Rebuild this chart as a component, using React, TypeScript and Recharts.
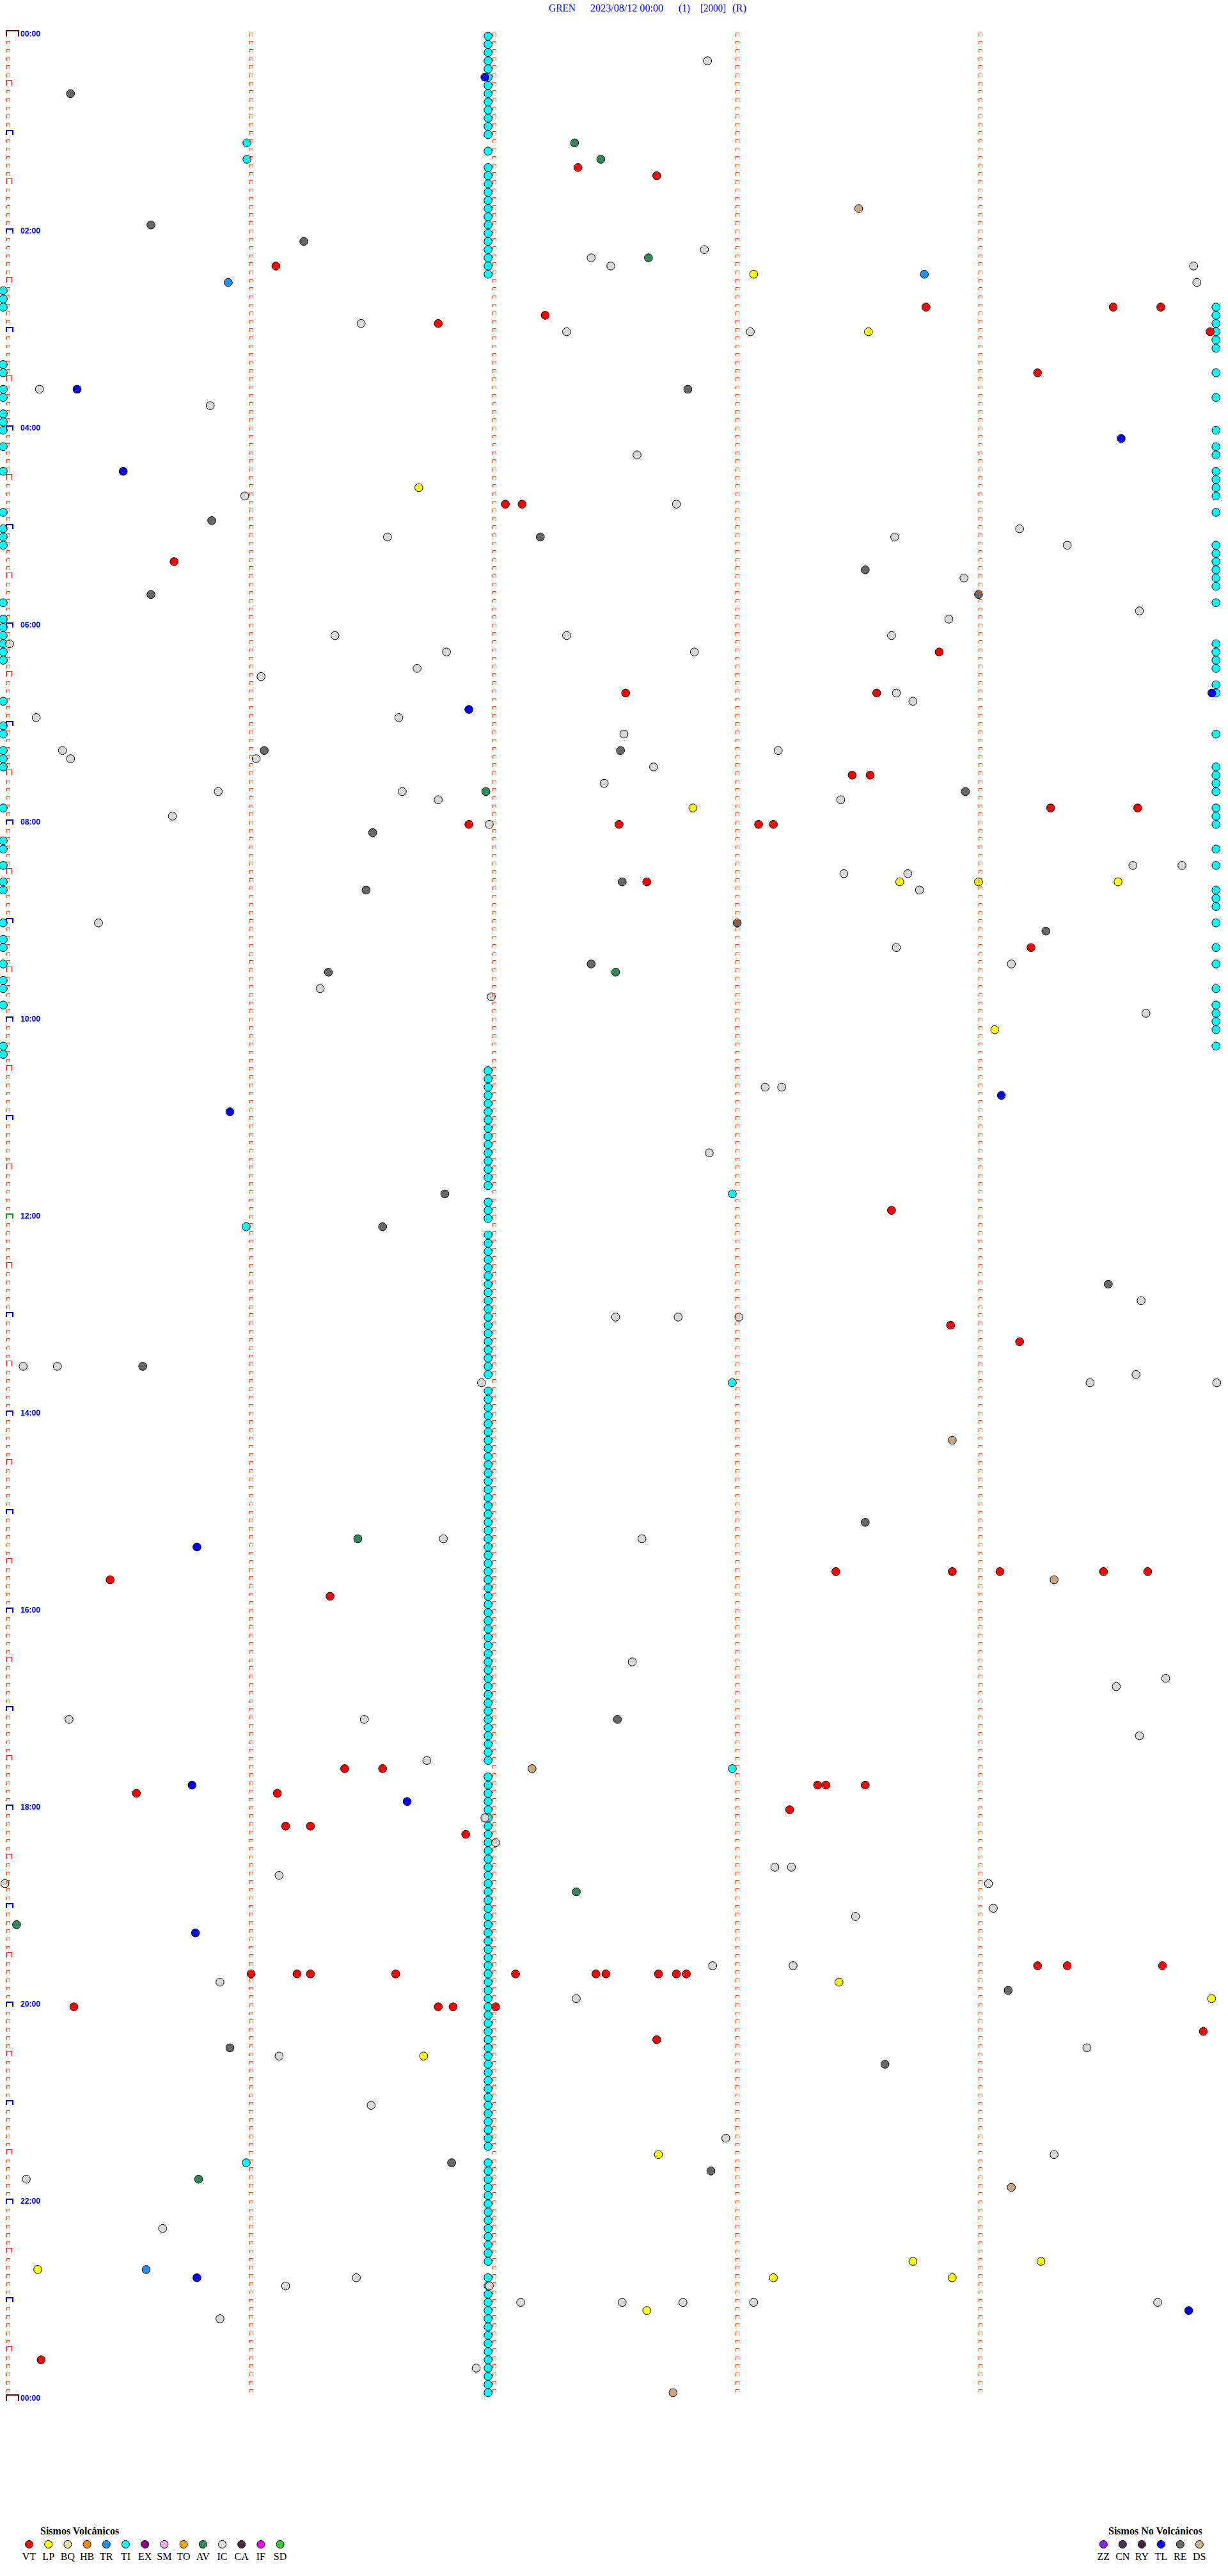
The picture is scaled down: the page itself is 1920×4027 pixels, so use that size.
import React from 'react';
import { ScatterChart, Scatter, XAxis, YAxis } from 'recharts';

// Each event: [minute offset inside its 5‑minute row (0..5), row index (5‑minute rows from 00:00)]
type Pt = [number, number];

const TITLE_PARTS = ['GREN', '2023/08/12 00:00', '(1)', '[2000]', '(R)'];
const HOUR_LABELS = ['00:00', '02:00', '04:00', '06:00', '08:00', '10:00', '12:00', '14:00', '16:00', '18:00', '20:00', '22:00', '00:00'];
const ROWS_PER_DAY = 288;
const COLUMNS = [0, 1, 2, 3, 4];

const VOLC_CODES = ['VT', 'LP', 'BQ', 'HB', 'TR', 'TI', 'EX', 'SM', 'TO', 'AV', 'IC', 'CA', 'IF', 'SD'];
const VOLC_COLORS = ['#ff0000', '#ffff00', '#eee8aa', '#ff8c00', '#1e90ff', '#00ffff', '#8b008b', '#eeaaee', '#ffa500', '#2e8b57', '#dcdcdc', '#4a2a48', '#ff00ff', '#32cd32'];
const NONVOLC_CODES = ['ZZ', 'CN', 'RY', 'TL', 'RE', 'DS'];
const NONVOLC_COLORS = ['#8a2be2', '#4b3060', '#4a2040', '#0000ff', '#6b6b6b', '#d2b48c'];

const TI_MID_M = 1.995;
const TI_MID_ROWS = [
  0, 1, 2, 3, 4, 5, 6, 7, 8, 9, 10, 11, 12, 14, 16, 17, 18, 19, 20, 21, 22, 23, 24, 25, 26, 27, 28, 29,
  126, 127, 128, 129, 130, 131, 132, 133, 134, 135, 136, 137, 138, 139, 140, 142, 143, 144,
  146, 147, 148, 149, 150, 151, 152, 153, 154, 155, 156, 157, 158, 159, 160, 161, 162, 163,
  165, 166, 167, 168, 169, 170, 171, 172, 173, 174, 175, 176, 177, 178, 179, 180, 181, 182, 183, 184, 185, 186, 187,
  188, 189, 190, 191, 192, 193, 194, 195, 196, 197, 198, 199, 200, 201, 202, 203, 204, 205, 206, 207, 208, 209, 210,
  212, 213, 214, 215, 216, 217, 218, 219, 220, 221, 222, 223, 224, 225, 226, 227, 228, 229, 230, 231, 232, 233, 234,
  235, 236, 237, 238, 239, 240, 241, 242, 243, 244, 245, 246, 247, 248, 249, 250, 251, 252, 253, 254, 255, 256, 257,
  259, 260, 261, 262, 263, 264, 265, 266, 267, 268, 269, 270, 271,
  273, 274, 275, 276, 277, 278, 279, 280, 281, 282, 283, 284, 285, 286, 287,
];
const TI_LEFT_M = 0.0;
const TI_LEFT_ROWS = [31, 32, 33, 40, 41, 43, 44, 46, 47, 48, 50, 53, 58, 60, 61, 62, 69, 71, 72, 73, 74, 75, 76, 81, 84, 85, 87, 88, 89, 94, 98, 99, 101, 103, 104, 108, 110, 111, 113, 115, 116, 118, 123, 124];
const TI_RIGHT_M = 4.99;
const TI_RIGHT_ROWS = [33, 34, 35, 36, 37, 38, 41, 44, 48, 50, 51, 53, 54, 55, 56, 58, 62, 63, 64, 65, 66, 67, 69, 74, 75, 76, 77, 79, 80, 85, 89, 90, 91, 92, 94, 95, 96, 99, 101, 104, 105, 106, 108, 111, 113, 116, 118, 119, 120, 121, 123];
const TI_OTHER: Pt[] = [[1.003, 13], [1.003, 15], [3.0, 141], [1.0, 145], [3.0, 164], [3.0, 211], [1.0, 259]];

const VT: Pt[] = [
  [2.365, 16], [2.689, 17], [1.122, 28], [2.23, 34], [1.79, 35], [3.797, 33], [4.567, 33], [4.763, 33], [4.966, 36], [4.256, 41],
  [2.066, 57], [2.135, 57], [0.703, 64], [3.851, 75], [2.561, 80], [3.594, 80], [3.493, 90], [3.567, 90], [4.31, 94], [4.668, 94],
  [1.916, 96], [2.534, 96], [3.108, 96], [3.169, 96], [2.648, 103], [4.229, 111], [3.655, 143], [3.898, 157], [4.182, 159],
  [3.426, 187], [3.905, 187], [4.101, 187], [4.527, 187], [4.709, 187], [0.44, 188], [1.345, 190], [1.405, 211], [1.561, 211],
  [3.351, 213], [3.385, 213], [3.547, 213], [0.548, 214], [1.128, 214], [3.236, 216], [1.162, 218], [1.264, 218], [1.903, 219],
  [4.256, 235], [4.378, 235], [4.77, 235], [1.02, 236], [1.209, 236], [1.264, 236], [1.615, 236], [2.108, 236], [2.439, 236],
  [2.48, 236], [2.696, 236], [2.77, 236], [2.811, 236], [0.291, 240], [1.79, 240], [1.851, 240], [2.026, 240], [4.938, 243],
  [2.689, 244], [0.156, 283],
];
const LP: Pt[] = [
  [3.088, 29], [3.56, 36], [1.71, 55], [2.838, 94], [3.689, 103], [4.013, 103], [4.587, 103], [4.08, 121], [3.439, 237],
  [4.972, 239], [1.73, 246], [2.696, 258], [0.142, 272], [3.169, 273], [3.743, 271], [3.905, 273], [4.27, 271], [2.648, 277],
];
const TR: Pt[] = [[0.926, 30], [3.79, 29], [0.588, 272]];
const AV: Pt[] = [[2.351, 13], [2.459, 15], [2.655, 27], [1.986, 92], [2.52, 114], [1.459, 183], [2.358, 226], [0.055, 230], [0.804, 261]];
const IC: Pt[] = [
  [2.898, 3], [2.419, 27], [2.5, 28], [2.885, 26], [4.898, 28], [4.911, 30], [1.473, 35], [2.318, 36], [3.074, 36], [0.149, 43],
  [0.852, 45], [2.608, 51], [0.994, 56], [2.77, 57], [1.581, 61], [3.668, 61], [4.182, 60], [4.378, 62], [3.953, 66], [3.891, 71],
  [4.675, 70], [1.365, 73], [1.824, 75], [2.318, 73], [3.655, 73], [2.844, 75], [1.061, 78], [1.703, 77], [3.675, 80], [3.743, 81],
  [0.136, 83], [1.628, 83], [0.026, 74], [0.244, 87], [0.277, 88], [1.041, 88], [2.676, 89], [3.189, 87], [2.554, 85], [2.473, 91],
  [0.885, 92], [1.642, 92], [1.79, 93], [3.446, 93], [0.696, 95], [2.0, 96], [4.648, 101], [4.85, 101], [3.459, 102], [3.722, 102],
  [3.77, 104], [0.392, 108], [3.675, 111], [4.148, 113], [1.304, 116], [2.008, 117], [4.702, 119], [3.135, 128], [3.203, 128],
  [2.905, 136], [4.682, 154], [2.52, 156], [2.777, 156], [3.027, 156], [0.082, 162], [0.223, 162], [4.472, 164], [4.661, 163],
  [4.993, 164], [1.968, 164], [1.811, 183], [2.628, 183], [2.588, 198], [4.58, 201], [4.783, 200], [0.271, 205], [1.486, 205],
  [4.675, 207], [1.743, 210], [1.982, 217], [2.026, 220], [3.175, 223], [3.243, 223], [1.135, 224], [0.007, 225], [4.054, 225],
  [4.074, 228], [3.507, 229], [2.919, 235], [3.25, 235], [0.892, 237], [2.358, 239], [1.135, 246], [4.459, 245], [1.514, 252],
  [2.973, 256], [4.324, 258], [0.095, 261], [0.656, 267], [1.453, 273], [1.162, 274], [2.129, 276], [2.0, 274], [2.547, 276],
  [2.797, 276], [3.088, 276], [4.75, 276], [0.892, 278], [1.946, 284],
];
const TL: Pt[] = [
  [1.982, 5], [0.304, 43], [4.6, 49], [0.494, 53], [1.916, 82], [4.973, 80], [0.933, 131], [4.107, 129], [0.797, 184],
  [0.777, 213], [1.662, 215], [0.791, 231], [0.797, 273], [4.878, 277],
];
const RE: Pt[] = [
  [0.277, 7], [0.608, 23], [1.237, 25], [2.817, 43], [0.858, 59], [2.21, 61], [3.547, 65], [4.013, 68], [0.608, 68], [1.074, 87],
  [2.54, 87], [3.959, 92], [1.52, 97], [1.493, 104], [2.547, 103], [3.02, 108], [4.29, 109], [2.419, 113], [1.338, 114],
  [1.817, 141], [1.561, 145], [4.547, 152], [0.574, 162], [3.547, 181], [2.527, 205], [4.135, 238], [0.933, 245], [3.628, 247],
  [1.845, 259], [2.912, 260],
];
const DS: Pt[] = [[3.52, 21], [3.905, 171], [4.324, 188], [2.176, 211], [4.148, 262], [2.756, 287]];

const toRows = (pts: Pt[]) => pts.map(([m, row]) => ({ m, row }));
const chainRows = (m: number, rows: number[]) => rows.map((row) => ({ m, row }));

const tiData = [
  ...chainRows(TI_MID_M, TI_MID_ROWS),
  ...chainRows(TI_LEFT_M, TI_LEFT_ROWS),
  ...chainRows(TI_RIGHT_M, TI_RIGHT_ROWS),
  ...toRows(TI_OTHER),
];

const tickData: { m: number; row: number; col: number }[] = [];
COLUMNS.forEach((col) => {
  const last = col === 0 ? ROWS_PER_DAY : ROWS_PER_DAY - 1;
  for (let row = 0; row <= last; row++) tickData.push({ m: col, row, col });
});

const dot = (fill: string) => (props: any) => {
  const { cx, cy } = props;
  if (cx == null || cy == null) return <g />;
  return <circle cx={cx} cy={cy} r={6.3} fill={fill} stroke="#000" strokeWidth={1} />;
};

const TickShape = (props: any) => {
  const { cx, cy, payload } = props;
  if (cx == null || cy == null) return <g />;
  const { row, col } = payload;
  let el: React.ReactNode;
  if (col === 0 && row % 144 === 0 && row !== 144) {
    el = <path d={`M${cx + 4.5},${cy} V${cy - 9} H${cx + 24} V${cy}`} stroke="#800000" strokeWidth={2} fill="none" />;
  } else if (col === 0 && row === 144) {
    el = <path d={`M${cx + 5},${cy} V${cy - 7} H${cx + 15} V${cy}`} stroke="#00a000" strokeWidth={2} fill="none" />;
  } else if (col === 0 && row % 12 === 0) {
    el = <path d={`M${cx + 5},${cy} V${cy - 7} H${cx + 15} V${cy}`} stroke="#0000ff" strokeWidth={2} fill="none" />;
  } else if (col === 0 && row % 6 === 0) {
    el = <path d={`M${cx + 5.5},${cy} V${cy - 8} H${cx + 13} V${cy}`} stroke="#ff0000" strokeWidth={1} fill="none" />;
  } else {
    el = <path d={`M${cx + 5.5},${cy} V${cy - 5} H${cx + 10} V${cy}`} stroke="#ff4500" strokeWidth={1} fill="none" />;
  }
  const label = col === 0 && row % 24 === 0 ? HOUR_LABELS[row / 24] : null;
  return (
    <g shapeRendering="crispEdges">
      {el}
      {label && (
        <text x={cx + 27} y={cy} fill="#0000ff" fontFamily="'Liberation Sans', Arial, sans-serif" fontWeight="bold" fontSize={13} textLength={31} lengthAdjust="spacingAndGlyphs">
          {label}
        </text>
      )}
    </g>
  );
};

const TITLE_X = [858, 923, 1061, 1095, 1145];
const TITLE_W = [42, 114, 18, 40, 22];

const Overlay = () => (
  <svg width={1920} height={4027} style={{ position: 'absolute', left: 0, top: 0, pointerEvents: 'none' }}>
    {TITLE_PARTS.map((t, i) => (
      <text key={i} x={TITLE_X[i]} y={18} fill="#0000ff" fontFamily="'Liberation Serif', 'Times New Roman', serif" fontSize={16} textLength={TITLE_W[i]} lengthAdjust="spacingAndGlyphs">
        {t}
      </text>
    ))}
    <text x={63} y={3962} fontFamily="'Liberation Serif', serif" fontWeight="bold" fontSize={16} fill="#000">Sismos Volcánicos</text>
    {VOLC_CODES.map((c, i) => (
      <g key={c}>
        <circle cx={45.5 + i * 30.2} cy={3977.5} r={6} fill={VOLC_COLORS[i]} stroke="#000" strokeWidth={1} />
        <text x={45.5 + i * 30.2} y={4002} textAnchor="middle" fontFamily="'Liberation Serif', serif" fontSize={16} fill="#000">{c}</text>
      </g>
    ))}
    <text x={1733} y={3962} fontFamily="'Liberation Serif', serif" fontWeight="bold" fontSize={16} fill="#000">Sismos No Volcánicos</text>
    {NONVOLC_CODES.map((c, i) => (
      <g key={c}>
        <circle cx={1725.3 + i * 30} cy={3977.5} r={6} fill={NONVOLC_COLORS[i]} stroke="#000" strokeWidth={1} />
        <text x={1725.3 + i * 30} y={4002} textAnchor="middle" fontFamily="'Liberation Serif', serif" fontSize={16} fill="#000">{c}</text>
      </g>
    ))}
  </svg>
);

export default function App() {
  return (
    <div style={{ position: 'absolute', left: 0, top: 0, width: 1920, height: 4027, background: '#fff' }}>
      <ScatterChart width={1920} height={4027} margin={{ top: 56.5, right: 15, bottom: 273.7, left: 5 }}>
        <XAxis type="number" dataKey="m" domain={[0, 5]} hide />
        <YAxis type="number" dataKey="row" domain={[0, ROWS_PER_DAY]} reversed hide />
        <Scatter data={tiData} shape={dot('#00ffff')} isAnimationActive={false} />
        <Scatter data={toRows(IC)} shape={dot('#d8d8d8')} isAnimationActive={false} />
        <Scatter data={toRows(RE)} shape={dot('#686868')} isAnimationActive={false} />
        <Scatter data={toRows(DS)} shape={dot('#c8a882')} isAnimationActive={false} />
        <Scatter data={toRows(AV)} shape={dot('#2e8b57')} isAnimationActive={false} />
        <Scatter data={toRows(TR)} shape={dot('#1e90ff')} isAnimationActive={false} />
        <Scatter data={toRows(LP)} shape={dot('#ffff00')} isAnimationActive={false} />
        <Scatter data={toRows(TL)} shape={dot('#0000ff')} isAnimationActive={false} />
        <Scatter data={toRows(VT)} shape={dot('#ff0000')} isAnimationActive={false} />
        <Scatter data={tickData} shape={TickShape} isAnimationActive={false} />
      </ScatterChart>
      <Overlay />
    </div>
  );
}
